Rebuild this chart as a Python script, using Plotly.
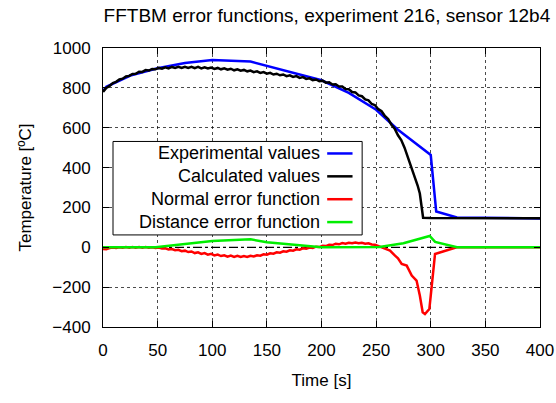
import plotly.graph_objects as go

# ---- data ----
t_exp = [0, 3, 25, 50, 75, 100, 135, 150, 175, 200, 225, 250, 270, 300, 305, 324, 400]
exp_vals = [785, 805, 862, 898, 925, 940, 932, 910, 872, 838, 775, 690, 590, 463, 180, 150, 145]

t_calc = [0, 3, 6, 9, 12, 15, 18, 21, 24, 27, 30, 33, 36, 39, 42, 45, 48, 51, 54, 57,
          60, 63, 66, 69, 72, 75, 78, 81, 84, 87, 90, 93, 96, 99, 102, 105, 108, 111, 114, 117,
          120, 123, 126, 129, 132, 135, 138, 141, 144, 147, 150, 153, 156, 159, 162, 165, 168, 171, 174, 177,
          180, 183, 186, 189, 192, 195, 198, 201, 204, 207, 210, 213, 216, 219, 222, 225, 228, 231, 234, 237,
          240, 243, 246, 249, 252, 255, 258, 261, 264, 267, 270, 273, 276, 279, 282, 285, 288, 290, 291.6, 293,
          300, 350, 400]
calc_vals = [780, 800, 810, 824, 830, 842, 846, 857, 860, 870, 871, 881, 880, 889, 887, 895, 893, 900, 896, 903,
             898, 905, 900, 906, 900, 906, 900, 906, 899, 905, 898, 903, 897, 902, 895, 900, 893, 898, 891, 896,
             888, 893, 886, 890, 883, 887, 879, 883, 875, 879, 871, 875, 867, 871, 863, 867, 859, 863, 855, 859,
             850, 854, 845, 848, 839, 842, 833, 836, 826, 828, 817, 818, 807, 807, 794, 793, 779, 777, 762, 758,
             742, 737, 719, 713, 693, 683, 659, 644, 615, 595, 562, 538, 500, 455, 410, 358, 310, 270, 212, 148,
             147, 146, 146]

t_norm = [0, 3, 6, 9, 12, 15, 18, 21, 24, 27, 30, 33, 36, 39, 42, 45, 48, 51, 54, 57,
          60, 63, 66, 69, 72, 75, 78, 81, 84, 87, 90, 93, 96, 99, 102, 105, 108, 111, 114, 117,
          120, 123, 126, 129, 132, 135, 138, 141, 144, 147, 150, 153, 156, 159, 162, 165, 168, 171, 174, 177,
          180, 183, 186, 189, 192, 195, 198, 201, 204, 207, 210, 213, 216, 219, 222, 225, 228, 231, 234, 237,
          240, 243, 246, 249, 254, 258, 262.7, 267.3, 270, 273.4, 278, 282.6, 287, 290, 292.6, 294.7, 298.7, 300,
          303.9, 323.7, 400]
norm_vals = [-8, -10, -4, -1, -3, 0, -2, 1, -2, 1, -2, 1, -2, 1, -2, 0, -3, -1, -6, -5,
             -11, -9, -15, -13, -20, -17, -24, -21, -29, -25, -33, -29, -37, -33, -41, -37, -44, -40, -47, -42,
             -48, -43, -49, -44, -49, -43, -46, -40, -42, -35, -37, -30, -32, -25, -27, -20, -22, -15, -17, -10,
             -12, -5, -7, -1, -3, 3, 1, 8, 6, 13, 11, 18, 15, 21, 18, 23, 20, 24, 20, 23,
             18, 20, 14, 13, 2, -8, -17, -42, -55, -84, -92, -142, -167, -242, -326, -335, -310, -242,
             -34, 0, 0]

t_dist = [0, 48, 100, 135, 150, 200, 253, 275, 299, 304, 324, 400]
dist_vals = [0, 0, 32, 40, 25, 0, 2, 20, 57, 27, 0, 0]

x_ticks = [0, 50, 100, 150, 200, 250, 300, 350, 400]
y_ticks = [-400, -200, 0, 200, 400, 600, 800, 1000]

series = [
    ("Experimental values", t_exp, exp_vals, "#0000ff"),
    ("Calculated values", t_calc, calc_vals, "#000000"),
    ("Normal error function", t_norm, norm_vals, "#ff0000"),
    ("Distance error function", t_dist, dist_vals, "#00ee00"),
]

FONT = "Liberation Sans, Arial, sans-serif"

fig = go.Figure()
for name, tx, ty, col in series:
    fig.add_trace(go.Scatter(x=tx, y=ty, mode="lines", name=name,
                             line=dict(color=col, width=2.5), showlegend=False))

# zero reference line (dash-dot)
fig.add_shape(type="line", xref="paper", yref="y", x0=0, x1=1, y0=0, y1=0,
              line=dict(color="black", width=1.2, dash="dashdot"), layer="below")

# custom gnuplot-style legend: text right aligned, sample line on the right
box_x0, box_x1 = 0.0229, 0.593
box_y0, box_y1 = 0.330, 0.665
fig.add_shape(type="rect", xref="paper", yref="paper", x0=box_x0, x1=box_x1, y0=box_y0, y1=box_y1,
              line=dict(color="black", width=1), fillcolor="white", layer="above")
row_y = [0.622, 0.540, 0.458, 0.376]
for (name, tx, ty, col), yy in zip(series, row_y):
    fig.add_annotation(x=0.502, y=yy, xref="paper", yref="paper", text=name, showarrow=False,
                       xanchor="right", yanchor="middle", font=dict(size=18, color="black", family=FONT))
    fig.add_shape(type="line", xref="paper", yref="paper", x0=0.513, x1=0.571, y0=yy, y1=yy,
                  line=dict(color=col, width=2.5), layer="above")

fig.update_layout(
    width=556, height=403,
    margin=dict(l=103, r=16, t=48, b=76),
    paper_bgcolor="white", plot_bgcolor="white",
    font=dict(family=FONT, size=17, color="black"),
    title=dict(text="FFTBM error functions, experiment 216, sensor 12b4",
               x=0.588, xanchor="center", y=0.962, yanchor="middle",
               font=dict(size=19, family=FONT, color="black")),
)
fig.update_xaxes(range=[0, 400], tickvals=x_ticks, ticks="inside", ticklen=6, tickcolor="black",
                 showline=True, linecolor="black", linewidth=1, mirror="ticks",
                 showgrid=True, gridcolor="rgba(0,0,0,0.7)", griddash="dot", gridwidth=1,
                 zeroline=False, ticklabelstandoff=8, automargin=False,
                 title=dict(text="Time [s]", font=dict(size=17), standoff=14))
fig.update_yaxes(range=[-400, 1000], tickvals=y_ticks, ticks="inside", ticklen=6, tickcolor="black",
                 showline=True, linecolor="black", linewidth=1, mirror="ticks",
                 showgrid=True, gridcolor="rgba(0,0,0,0.7)", griddash="dot", gridwidth=1,
                 zeroline=False, ticklabelstandoff=8, automargin=False,
                 title=dict(text="Temperature [ºC]", font=dict(size=17), standoff=16))

fig.write_html("out.html")
